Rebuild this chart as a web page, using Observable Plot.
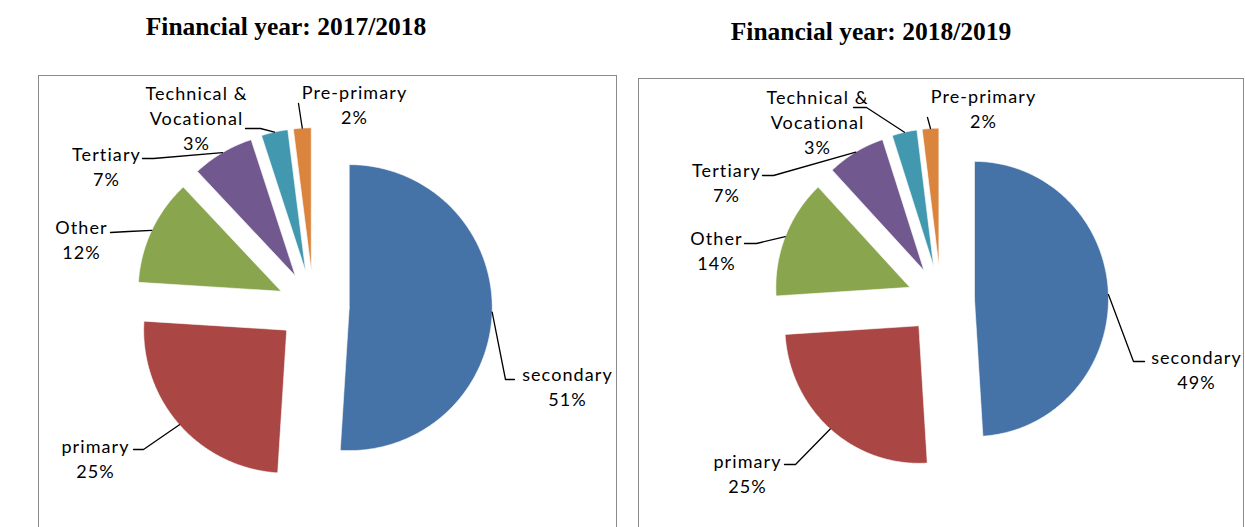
<!DOCTYPE html>
<html><head><meta charset="utf-8">
<script src="https://cdn.jsdelivr.net/npm/d3@7"></script>
<script src="https://cdn.jsdelivr.net/npm/@observablehq/plot@0.6"></script>
<style>
html,body{margin:0;padding:0;background:#fff;overflow:hidden;width:1245px;height:527px;position:relative}
.title{position:absolute;font-family:"Liberation Serif","Times New Roman",serif;font-weight:bold;font-size:25.5px;white-space:nowrap;transform:translate(-50%,-50%);color:#000}
.frame{position:absolute;border:1.5px solid #8a8a8a;box-sizing:border-box}
.pie{position:absolute}
.pie svg text{letter-spacing:1.1px}
</style></head><body>
<script>
// ---- data ----
const categories = ["secondary", "primary", "Other", "Tertiary", "Technical &\nVocational", "Pre-primary"];
const values2017 = [51, 25, 12, 7, 3, 2];
const values2018 = [49, 25, 14, 7, 3, 2];
const titles = ["Financial year: 2017/2018", "Financial year: 2018/2019"];
const colors = ["#4572A7", "#AA4643", "#89A54E", "#71588F", "#4198AF", "#DB843D"];

// ---- layout (page pixels) ----
const layouts = [
  {
    title: [286, 27], box: [38, 75, 579, 480], center: [313, 306], rx: 143, ry: 143,
    labels: [[567, 387.5], [95, 459.5], [81, 240.5], [106, 167.5], [196, 119.5], [354, 106]],
    leaders: [[[505, 379], [514, 379]], [[143, 449], [133, 449]], [[128, 231], [110, 232]],
              [[153, 158], [142, 158]], [[260, 128], [245, 128]], [[298, 103]]]
  },
  {
    title: [871, 32], box: [638, 78, 606, 480], center: [940.5, 299.5], rx: 134, ry: 137.5,
    labels: [[1196, 371], [747, 475], [716, 252], [726, 183.5], [817, 123.3], [983, 110]],
    leaders: [[[1133, 361], [1144, 361]], [[795, 464], [784, 464]], [[756, 243], [744, 243]],
              [[773, 175], [762, 175]], [[866, 107], [853, 107]], [[927, 117]]]
  }
];
const explode = 0.25;

function makePie(values, title, L) {
  const total = d3.sum(values);
  const [bx, by, W, H] = L.box;
  const cx = L.center[0] - bx, cy = L.center[1] - by, rx = L.rx, ry = L.ry;
  const toU = ([px, py]) => [(px - L.center[0]) / rx, -(py - L.center[1]) / ry];

  const slicePts = [], leaderPts = [], labelRows = [];
  let cum = 0;
  values.forEach((v, i) => {
    const a0 = cum / total * 2 * Math.PI; cum += v;
    const a1 = cum / total * 2 * Math.PI;
    const mid = (a0 + a1) / 2;
    const ox = explode * Math.sin(mid), oy = explode * Math.cos(mid);
    const cat = categories[i];
    slicePts.push({key: i, cat, x: ox, y: oy});
    const n = Math.max(4, Math.ceil((a1 - a0) / 0.01));
    for (let k = 0; k <= n; k++) {
      const a = a0 + (a1 - a0) * k / n;
      slicePts.push({key: i, cat, x: ox + Math.sin(a), y: oy + Math.cos(a)});
    }
    slicePts.push({key: i, cat, x: ox, y: oy});
    // leader: arc midpoint -> elbow -> end
    leaderPts.push({key: i, x: ox + Math.sin(mid), y: oy + Math.cos(mid)});
    L.leaders[i].forEach(p => { const [ux, uy] = toU(p); leaderPts.push({key: i, x: ux, y: uy}); });
    const [lx, ly] = toU(L.labels[i]);
    labelRows.push({x: lx, y: ly, text: cat + "\n" + Math.round(v / total * 100) + "%"});
  });

  const frame = document.createElement("div");
  frame.className = "frame";
  Object.assign(frame.style, {left: bx + "px", top: by + "px", width: W + "px", height: H + "px"});
  document.body.appendChild(frame);

  const t = document.createElement("div");
  t.className = "title"; t.textContent = title;
  Object.assign(t.style, {left: L.title[0] + "px", top: L.title[1] + "px"});
  document.body.appendChild(t);

  const chart = Plot.plot({
    width: W, height: H, margin: 0,
    x: {domain: [-cx / rx, (W - cx) / rx], range: [0, W], axis: null},
    y: {domain: [-(H - cy) / ry, cy / ry], range: [H, 0], axis: null},
    color: {domain: categories, range: colors},
    style: {background: "transparent", overflow: "visible"},
    marks: [
      Plot.line(slicePts, {x: "x", y: "y", z: "key", fill: "cat", stroke: "white", strokeWidth: 0.6, curve: "linear"}),
      Plot.line(leaderPts, {x: "x", y: "y", z: "key", stroke: "#000", strokeWidth: 1.3}),
      Plot.text(labelRows, {x: "x", y: "y", text: "text", dy: -3, fontSize: 18, fontFamily: "Lato", lineHeight: 25 / 18, fill: "#000"})
    ]
  });
  const wrap = document.createElement("div");
  wrap.className = "pie";
  Object.assign(wrap.style, {left: bx + "px", top: by + "px", width: W + "px", height: H + "px"});
  wrap.appendChild(chart);
  document.body.appendChild(wrap);
}

makePie(values2017, titles[0], layouts[0]);
makePie(values2018, titles[1], layouts[1]);
</script>
</body></html>
